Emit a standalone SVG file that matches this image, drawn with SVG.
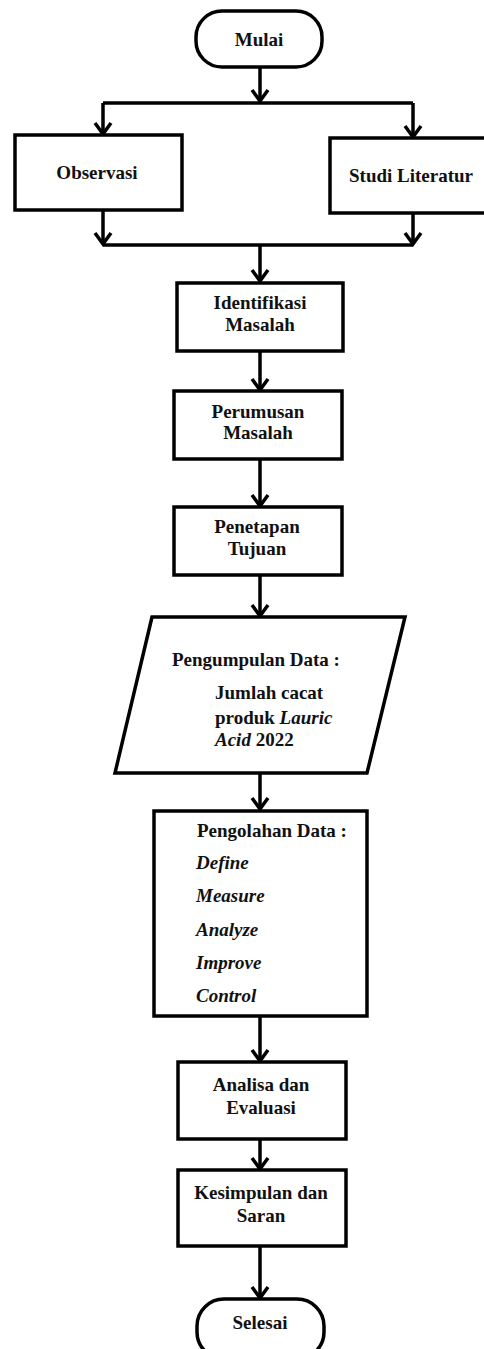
<svg xmlns="http://www.w3.org/2000/svg" width="484" height="1349" viewBox="0 0 484 1349">
<style>
.box{fill:#fff;stroke:#000;stroke-width:3.5;stroke-linejoin:miter}
.ln{fill:none;stroke:#000;stroke-width:3.5}
.t{font-family:"Liberation Serif","Times New Roman",serif;font-weight:bold;font-size:19px;fill:#111}
.c{text-anchor:middle}
.i{font-style:italic}
</style>
<defs>
<marker id="ah" markerUnits="userSpaceOnUse" orient="auto" markerWidth="20" markerHeight="20" refX="0" refY="0" overflow="visible">
<path d="M-11,-8 L0,0 L-11,8" fill="none" stroke="#000" stroke-width="3.5"/>
</marker>
</defs>
<rect width="484" height="1349" fill="#fff"/>
<g id="connectors">
<path class="ln" d="M260,67 V101" marker-end="url(#ah)"/>
<path class="ln" d="M103,103 H413"/>
<path class="ln" d="M103,103 V134" marker-end="url(#ah)"/>
<path class="ln" d="M413,103 V137" marker-end="url(#ah)"/>
<path class="ln" d="M103,210 V244" marker-end="url(#ah)"/>
<path class="ln" d="M413,213 V244" marker-end="url(#ah)"/>
<path class="ln" d="M103,245 H413"/>
<path class="ln" d="M260,245 V281" marker-end="url(#ah)"/>
<path class="ln" d="M260,351 V390" marker-end="url(#ah)"/>
<path class="ln" d="M260,459 V506" marker-end="url(#ah)"/>
<path class="ln" d="M260,575 V616" marker-end="url(#ah)"/>
<path class="ln" d="M260,773 V809" marker-end="url(#ah)"/>
<path class="ln" d="M260,1017 V1061" marker-end="url(#ah)"/>
<path class="ln" d="M260,1139 V1169" marker-end="url(#ah)"/>
<path class="ln" d="M260,1246 V1298" marker-end="url(#ah)"/>
</g>
<g id="mulai">
<rect class="box" x="196" y="11" width="126" height="56" rx="26" ry="26"/>
<text class="t c" x="259" y="46">Mulai</text>
</g>
<g id="observasi">
<rect class="box" x="15" y="135" width="167" height="75"/>
<text class="t c" x="97" y="179">Observasi</text>
</g>
<g id="studi">
<rect class="box" x="330" y="138" width="170" height="75"/>
<text class="t c" x="411" y="182">Studi Literatur</text>
</g>
<g id="identifikasi">
<rect class="box" x="177" y="283" width="166" height="68"/>
<text class="t c" x="260" y="309">Identifikasi</text>
<text class="t c" x="260" y="331">Masalah</text>
</g>
<g id="perumusan">
<rect class="box" x="174" y="391" width="168" height="68"/>
<text class="t c" x="258" y="418">Perumusan</text>
<text class="t c" x="258" y="439">Masalah</text>
</g>
<g id="penetapan">
<rect class="box" x="174" y="507" width="168" height="68"/>
<text class="t c" x="257" y="533">Penetapan</text>
<text class="t c" x="257" y="555">Tujuan</text>
</g>
<g id="pengumpulan">
<polygon class="box" points="152,617 405,617 367,773 115,773"/>
<text class="t" x="172" y="666">Pengumpulan Data :</text>
<text class="t" x="215" y="699">Jumlah cacat</text>
<text class="t" x="215" y="724">produk <tspan class="i">Lauric</tspan></text>
<text class="t" x="215" y="746"><tspan class="i">Acid</tspan> 2022</text>
</g>
<g id="pengolahan">
<rect class="box" x="154" y="811" width="213" height="205"/>
<text class="t" x="197" y="837">Pengolahan Data :</text>
<text class="t i" x="196" y="869">Define</text>
<text class="t i" x="196" y="902">Measure</text>
<text class="t i" x="196" y="936">Analyze</text>
<text class="t i" x="196" y="969">Improve</text>
<text class="t i" x="196" y="1002">Control</text>
</g>
<g id="analisa">
<rect class="box" x="178" y="1062" width="168" height="77"/>
<text class="t c" x="261" y="1091">Analisa dan</text>
<text class="t c" x="261" y="1114">Evaluasi</text>
</g>
<g id="kesimpulan">
<rect class="box" x="178" y="1170" width="168" height="76"/>
<text class="t c" x="261" y="1199">Kesimpulan dan</text>
<text class="t c" x="261" y="1222">Saran</text>
</g>
<g id="selesai">
<rect class="box" x="197" y="1299" width="127" height="60" rx="27" ry="27"/>
<text class="t c" x="260" y="1329">Selesai</text>
</g>
</svg>
